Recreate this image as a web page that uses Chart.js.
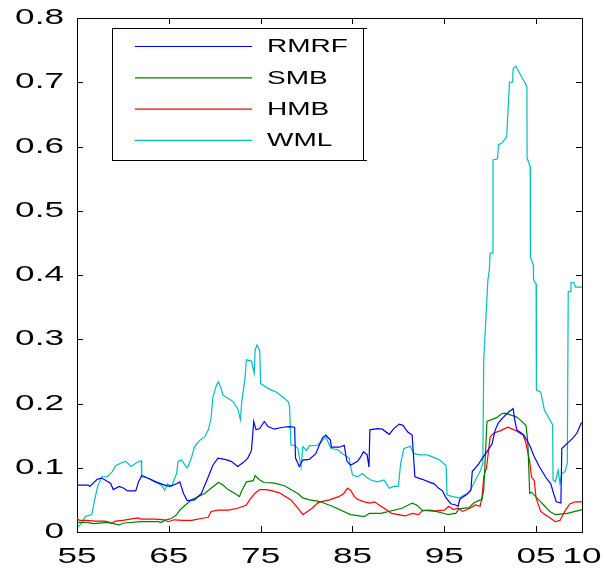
<!DOCTYPE html>
<html>
<head>
<meta charset="utf-8">
<script src="https://cdn.jsdelivr.net/npm/chart.js@4/dist/chart.umd.min.js"></script>
<style>
  html, body { margin: 0; padding: 0; background: #fff; }
  canvas { display: block; }
</style>
</head>
<body>
<canvas id="chart" width="604" height="574"></canvas>
<script>
// tick labels
const xTicks = [1955, 1965, 1975, 1985, 1995, 2005, 2010];
const yTicks = [0, 0.1, 0.2, 0.3, 0.4, 0.5, 0.6, 0.7, 0.8];

const seriesNames = ['RMRF', 'SMB', 'HMB', 'WML'];

// values (year, value)
const rmrfYears = [1955.0, 1956.25, 1956.4, 1957.2, 1957.7, 1958.65, 1958.95, 1959.6, 1960.1, 1960.5, 1961.4, 1961.7, 1962.05, 1962.7, 1963.6, 1964.55, 1965.1, 1965.85, 1966.2, 1966.6, 1967.0, 1967.8, 1968.55, 1969.3, 1969.8, 1970.35, 1971.1, 1971.8, 1972.5, 1973.1, 1973.6, 1974.0, 1974.25, 1974.5, 1974.9, 1975.4, 1975.8, 1976.5, 1977.4, 1978.15, 1978.7, 1978.8, 1979.2, 1979.6, 1980.3, 1981.0, 1981.75, 1982.1, 1982.6, 1982.7, 1983.55, 1984.1, 1984.4, 1984.8, 1985.55, 1985.9, 1986.2, 1986.6, 1986.8, 1986.9, 1987.7, 1988.25, 1989.0, 1989.5, 1990.1, 1990.5, 1991.0, 1991.5, 1991.8, 1992.6, 1993.3, 1993.9, 1994.4, 1994.8, 1995.2, 1995.7, 1996.25, 1996.5, 1996.7, 1997.5, 1997.9, 1998.05, 1998.75, 1999.3, 1999.65, 2000.2, 2000.55, 2000.9, 2001.4, 2001.95, 2002.5, 2002.7, 2002.9, 2003.65, 2004.3, 2004.8, 2005.35, 2006.1, 2006.6, 2006.95, 2007.2, 2007.7, 2007.8, 2008.4, 2009.0, 2009.45, 2009.9, 2010.0];
const rmrfValues = [0.073, 0.073, 0.071, 0.082, 0.084, 0.076, 0.066, 0.071, 0.068, 0.064, 0.064, 0.078, 0.088, 0.084, 0.078, 0.073, 0.071, 0.075, 0.078, 0.060, 0.049, 0.050, 0.060, 0.086, 0.104, 0.115, 0.113, 0.110, 0.102, 0.108, 0.115, 0.127, 0.172, 0.159, 0.161, 0.172, 0.164, 0.160, 0.163, 0.164, 0.163, 0.115, 0.102, 0.112, 0.113, 0.122, 0.147, 0.151, 0.143, 0.132, 0.132, 0.135, 0.110, 0.104, 0.110, 0.117, 0.125, 0.120, 0.101, 0.159, 0.161, 0.160, 0.152, 0.161, 0.168, 0.166, 0.156, 0.151, 0.086, 0.082, 0.078, 0.075, 0.068, 0.064, 0.053, 0.044, 0.042, 0.040, 0.051, 0.059, 0.065, 0.094, 0.106, 0.118, 0.125, 0.137, 0.159, 0.170, 0.178, 0.186, 0.192, 0.172, 0.159, 0.151, 0.135, 0.117, 0.102, 0.084, 0.075, 0.058, 0.047, 0.045, 0.130, 0.138, 0.146, 0.154, 0.169, 0.170];

const smbYears = [1955.0, 1956.1, 1956.8, 1958.3, 1959.6, 1960.1, 1962.0, 1963.8, 1964.2, 1964.7, 1965.3, 1965.85, 1966.2, 1966.8, 1967.5, 1968.9, 1969.6, 1970.4, 1970.9, 1971.45, 1972.2, 1972.7, 1972.9, 1973.45, 1974.2, 1974.4, 1974.9, 1975.4, 1976.5, 1977.6, 1978.3, 1979.05, 1979.6, 1980.3, 1981.2, 1981.5, 1982.8, 1984.8, 1986.3, 1986.85, 1988.1, 1990.4, 1991.5, 1992.0, 1992.6, 1994.1, 1995.2, 1995.35, 1996.25, 1996.6, 1997.7, 1998.2, 1998.9, 1999.1, 1999.3, 1999.65, 2000.7, 2001.25, 2001.6, 2002.7, 2003.0, 2003.9, 2004.1, 2004.3, 2004.5, 2005.5, 2005.7, 2006.5, 2007.1, 2008.4, 2009.8, 2010.0];
const smbValues = [0.015, 0.015, 0.013, 0.015, 0.011, 0.014, 0.016, 0.016, 0.015, 0.019, 0.021, 0.027, 0.034, 0.042, 0.050, 0.060, 0.068, 0.077, 0.073, 0.066, 0.060, 0.055, 0.063, 0.078, 0.080, 0.088, 0.081, 0.077, 0.076, 0.072, 0.066, 0.060, 0.053, 0.050, 0.048, 0.047, 0.040, 0.027, 0.024, 0.029, 0.029, 0.037, 0.045, 0.042, 0.034, 0.032, 0.028, 0.027, 0.029, 0.036, 0.038, 0.045, 0.050, 0.050, 0.066, 0.172, 0.178, 0.184, 0.185, 0.180, 0.178, 0.166, 0.140, 0.060, 0.062, 0.047, 0.044, 0.032, 0.027, 0.029, 0.034, 0.035];

const hmbYears = [1955.0, 1955.3, 1956.0, 1957.0, 1958.0, 1958.85, 1959.2, 1960.0, 1961.6, 1962.0, 1963.5, 1964.5, 1964.9, 1965.6, 1966.5, 1967.5, 1968.5, 1969.3, 1969.6, 1970.4, 1971.5, 1972.5, 1973.45, 1973.8, 1974.35, 1974.9, 1975.6, 1976.3, 1977.05, 1977.6, 1978.3, 1978.9, 1979.6, 1980.1, 1980.6, 1981.2, 1981.5, 1982.5, 1983.5, 1984.0, 1984.45, 1984.8, 1985.2, 1985.55, 1986.3, 1986.9, 1987.4, 1988.1, 1988.8, 1989.25, 1990.0, 1990.75, 1991.5, 1992.2, 1992.6, 1993.3, 1994.1, 1995.0, 1995.5, 1996.0, 1996.5, 1997.0, 1997.8, 1998.4, 1998.9, 1999.1, 1999.3, 1999.6, 2000.0, 2000.4, 2001.0, 2001.95, 2002.6, 2003.6, 2003.9, 2004.3, 2004.5, 2004.8, 2005.0, 2005.5, 2006.0, 2006.6, 2007.1, 2007.6, 2008.2, 2008.7, 2009.3, 2010.0];
const hmbValues = [0.021, 0.018, 0.018, 0.017, 0.017, 0.014, 0.017, 0.018, 0.022, 0.020, 0.020, 0.019, 0.016, 0.019, 0.018, 0.018, 0.021, 0.023, 0.032, 0.034, 0.034, 0.037, 0.042, 0.050, 0.060, 0.066, 0.066, 0.064, 0.061, 0.056, 0.050, 0.040, 0.027, 0.032, 0.037, 0.045, 0.047, 0.050, 0.055, 0.059, 0.068, 0.065, 0.055, 0.051, 0.047, 0.045, 0.047, 0.040, 0.034, 0.029, 0.027, 0.025, 0.029, 0.027, 0.033, 0.034, 0.033, 0.034, 0.040, 0.035, 0.037, 0.032, 0.037, 0.042, 0.040, 0.053, 0.086, 0.100, 0.148, 0.154, 0.157, 0.163, 0.159, 0.151, 0.138, 0.110, 0.086, 0.080, 0.053, 0.032, 0.027, 0.021, 0.016, 0.018, 0.034, 0.044, 0.047, 0.047];

const wmlYears = [1955.0, 1955.5, 1955.9, 1956.6, 1957.0, 1957.25, 1957.7, 1958.3, 1958.85, 1959.2, 1959.75, 1960.3, 1960.9, 1961.4, 1962.0, 1962.05, 1962.7, 1963.45, 1964.2, 1964.55, 1964.85, 1965.3, 1965.85, 1966.0, 1966.4, 1966.95, 1967.1, 1967.5, 1967.8, 1968.4, 1968.9, 1969.3, 1969.6, 1969.8, 1970.2, 1970.4, 1970.7, 1970.9, 1971.45, 1972.0, 1972.5, 1972.8, 1972.95, 1973.3, 1973.45, 1974.0, 1974.3, 1974.4, 1974.6, 1974.9, 1975.0, 1975.45, 1976.0, 1976.7, 1977.4, 1978.0, 1978.15, 1978.3, 1978.7, 1979.05, 1979.4, 1979.6, 1980.0, 1980.3, 1981.2, 1982.1, 1982.65, 1983.4, 1984.1, 1984.65, 1984.8, 1985.0, 1985.55, 1986.1, 1986.45, 1987.0, 1987.7, 1988.45, 1989.0, 1989.5, 1990.0, 1990.25, 1990.6, 1991.3, 1991.7, 1992.4, 1993.15, 1994.05, 1994.5, 1995.2, 1995.3, 1995.9, 1996.6, 1997.5, 1997.85, 1998.4, 1998.9, 1999.2, 1999.3, 1999.75, 1999.9, 2000.0, 2000.28, 2000.3, 2000.8, 2000.9, 2001.25, 2001.8, 2002.1, 2002.45, 2002.5, 2002.8, 2003.4, 2003.75, 2004.0, 2004.02, 2004.36, 2004.38, 2004.7, 2004.72, 2005.0, 2005.03, 2005.5, 2005.9, 2006.4, 2006.8, 2006.85, 2007.1, 2007.4, 2007.6, 2007.8, 2008.15, 2008.4, 2008.5, 2008.7, 2008.8, 2009.1, 2009.3, 2010.0];
const wmlValues = [0.006, 0.014, 0.024, 0.027, 0.055, 0.071, 0.086, 0.086, 0.094, 0.103, 0.107, 0.110, 0.102, 0.107, 0.111, 0.086, 0.084, 0.078, 0.073, 0.065, 0.075, 0.071, 0.091, 0.110, 0.112, 0.100, 0.102, 0.117, 0.133, 0.143, 0.148, 0.159, 0.177, 0.210, 0.229, 0.234, 0.223, 0.213, 0.208, 0.203, 0.192, 0.175, 0.203, 0.239, 0.268, 0.266, 0.247, 0.283, 0.291, 0.283, 0.231, 0.227, 0.222, 0.218, 0.210, 0.203, 0.195, 0.135, 0.135, 0.130, 0.101, 0.133, 0.127, 0.134, 0.135, 0.148, 0.130, 0.128, 0.120, 0.115, 0.102, 0.089, 0.086, 0.091, 0.086, 0.081, 0.078, 0.081, 0.068, 0.071, 0.071, 0.107, 0.130, 0.133, 0.122, 0.120, 0.120, 0.115, 0.112, 0.103, 0.058, 0.055, 0.053, 0.060, 0.065, 0.081, 0.094, 0.107, 0.268, 0.392, 0.407, 0.434, 0.434, 0.579, 0.581, 0.603, 0.605, 0.615, 0.700, 0.700, 0.721, 0.725, 0.709, 0.700, 0.693, 0.582, 0.569, 0.428, 0.415, 0.393, 0.386, 0.221, 0.218, 0.190, 0.177, 0.167, 0.081, 0.078, 0.096, 0.076, 0.091, 0.094, 0.107, 0.374, 0.374, 0.388, 0.388, 0.381, 0.381];

const seriesColors = ['#0000ff', '#008000', '#ff0000', '#00bfbf'];

const TEXT_STRETCH = 1.6;
const FONT = "'Liberation Sans', Arial, sans-serif";

const canvas = document.getElementById('chart');
const ctx = canvas.getContext('2d');

// the reference text is drawn wide, so stretch every label sideways around its anchor
const plainFillText = ctx.fillText;
ctx.fillText = function (text, x, y) {
  this.save();
  this.translate(x, y);
  this.scale(TEXT_STRETCH, 1);
  plainFillText.call(this, text, 0, 0);
  this.restore();
};

function toPoints(years, values) {
  return years.map((yr, i) => ({ x: yr, y: values[i] }));
}

const allYears = [rmrfYears, smbYears, hmbYears, wmlYears];
const allValues = [rmrfValues, smbValues, hmbValues, wmlValues];

const datasets = seriesNames.map((name, i) => ({
  label: name,
  data: toPoints(allYears[i], allValues[i]),
  borderColor: seriesColors[i],
  borderWidth: 1.2,
  pointRadius: 0,
  tension: 0,
  fill: false
}));

function setTicks(list) {
  return scale => { scale.ticks = list.map(v => ({ value: v })); };
}

// fixed box sizes, and no extra room asked for by the end labels
function fixSize(w, h) {
  return s => {
    if (w !== null) s.width = w;
    if (h !== null) s.height = h;
    s.paddingLeft = s.paddingRight = s.paddingTop = s.paddingBottom = 0;
  };
}

const noGrid = { display: false, drawTicks: false, tickLength: 0 };
const frameBorder = { display: true, color: '#000', width: 1 };

// MATLAB-style inward tick marks on all four sides
const innerTicks = {
  id: 'innerTicks',
  afterDraw(chart) {
    const c = chart.ctx;
    const { left, right, top, bottom } = chart.chartArea;
    const len = 6;
    c.save();
    c.strokeStyle = '#000';
    c.lineWidth = 1;
    c.beginPath();
    xTicks.forEach(v => {
      const px = Math.round(chart.scales.x.getPixelForValue(v)) + 0.5;
      c.moveTo(px, bottom); c.lineTo(px, bottom - len);
      c.moveTo(px, top); c.lineTo(px, top + len);
    });
    yTicks.forEach(v => {
      const py = Math.round(chart.scales.y.getPixelForValue(v)) + 0.5;
      c.moveTo(left, py); c.lineTo(left + len, py);
      c.moveTo(right, py); c.lineTo(right - len, py);
    });
    c.stroke();
    c.restore();
  }
};

// legend drawn as a boxed MATLAB-style key inside the plot
const boxLegend = {
  id: 'boxLegend',
  afterDraw(chart) {
    const c = chart.ctx;
    const area = chart.chartArea;
    const left = area.left + 35;
    const top = area.top + 10;
    const w = 251, h = 132;
    c.save();
    c.strokeStyle = '#000';
    c.lineWidth = 1;
    c.strokeRect(left + 0.5, top + 0.5, w, h);
    c.beginPath();
    c.moveTo(left + w, top + 0.5); c.lineTo(left + w + 4, top + 0.5);
    c.moveTo(left + w, top + h + 0.5); c.lineTo(left + w + 4, top + h + 0.5);
    c.stroke();
    c.font = '17.5px ' + FONT;
    c.textBaseline = 'middle';
    c.textAlign = 'left';
    seriesNames.forEach((name, i) => {
      const y = top + 18.5 + i * 31.3;
      c.strokeStyle = seriesColors[i];
      c.lineWidth = 1.2;
      c.beginPath();
      c.moveTo(left + 23, y);
      c.lineTo(left + 140, y);
      c.stroke();
      c.fillStyle = '#000';
      c.fillText(name, left + 155, y + 1);
    });
    c.restore();
  }
};

new Chart(canvas, {
  type: 'line',
  data: { datasets },
  options: {
    responsive: false,
    animation: false,
    layout: { padding: { top: 18, right: 22, left: 0, bottom: 0 } },
    plugins: { legend: { display: false }, tooltip: { enabled: false } },
    scales: {
      x: {
        type: 'linear',
        position: 'bottom',
        min: 1955,
        max: 2010,
        afterBuildTicks: setTicks(xTicks),
        afterFit: fixSize(null, 42),
        grid: noGrid,
        border: frameBorder,
        ticks: {
          autoSkip: false,
          maxRotation: 0,
          padding: 12,
          color: '#000',
          font: { family: FONT, size: 22 },
          callback: v => String(v % 100).padStart(2, '0')
        }
      },
      x2: {
        type: 'linear',
        axis: 'x',
        position: 'top',
        min: 1955,
        max: 2010,
        afterFit: fixSize(null, 0),
        grid: noGrid,
        border: frameBorder,
        ticks: { display: false }
      },
      y: {
        type: 'linear',
        position: 'left',
        min: 0,
        max: 0.8,
        afterBuildTicks: setTicks(yTicks),
        afterFit: fixSize(77, null),
        grid: noGrid,
        border: frameBorder,
        ticks: {
          padding: 13,
          color: '#000',
          font: { family: FONT, size: 22 },
          callback: v => (v === 0 ? '0' : v.toFixed(1))
        }
      },
      y2: {
        type: 'linear',
        axis: 'y',
        position: 'right',
        min: 0,
        max: 0.8,
        afterFit: fixSize(0, null),
        grid: noGrid,
        border: frameBorder,
        ticks: { display: false }
      }
    }
  },
  plugins: [innerTicks, boxLegend]
});
</script>
</body>
</html>
